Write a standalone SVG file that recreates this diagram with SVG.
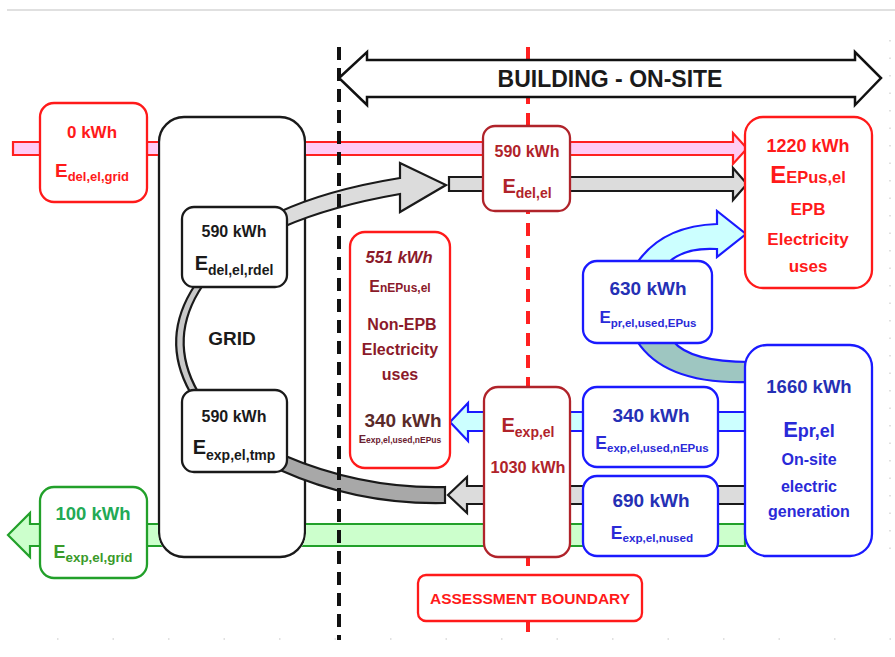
<svg xmlns="http://www.w3.org/2000/svg" width="895" height="657" viewBox="0 0 895 657">
<defs>
<style>
text{font-family:"Liberation Sans",Arial,sans-serif;font-weight:bold;text-anchor:middle}
.box{fill:#fff;stroke-width:2.3}
.kred{stroke:#ff1a1a}
.kdark{stroke:#b0232a}
.kblue{stroke:#1a1aff}
.kgreen{stroke:#22a02a}
.kblack{stroke:#1a1a1a}
.tred{fill:#ff1a1a}
.tdark{fill:#b0232a}
.tblue{fill:#2530b5}
.tblue2{fill:#2a2ad8}
.tgreen{fill:#22aa55}
.tgreen2{fill:#3a9a2a}
.tblack{fill:#1a1a1a}
.tbrown{fill:#8b1a2a}
.band{stroke-width:2.2;stroke-linejoin:miter}
</style>
<clipPath id="noGrid"><path clip-rule="evenodd" d="M0,0H895V657H0Z M183,116 H281 A25,25 0 0 1 306,141 V533 A25,25 0 0 1 281,558 H183 A25,25 0 0 1 158,533 V141 A25,25 0 0 1 183,116 Z"/></clipPath>
</defs>

<g id="page-marks">
<line x1="7" y1="10" x2="895" y2="10" stroke="#d6d6d6" stroke-width="1.5"/>
<line x1="890" y1="40" x2="890" y2="560" stroke="#d8d8d8" stroke-width="1.5" stroke-dasharray="1.5 16"/>
<line x1="57" y1="639" x2="895" y2="639" stroke="#d8d8d8" stroke-width="1.5" stroke-dasharray="1.5 54"/>
</g>

<g id="grid">
<rect class="box kblack" x="159" y="117" width="146" height="440" rx="25"/>
<text class="tblack" x="232" y="345" font-size="19">GRID</text>
</g>

<g id="connectors">
<g clip-path="url(#noGrid)">
<path class="band" d="M13,142 H733 V133 L747,148.5 L733,164 V155 H13 Z" fill="#ffccf5" stroke="#ff2020"/>
<path class="band" d="M745,524 H30 V513 L8,535 L30,557 V546 H745 Z" fill="#ccffcc" stroke="#22a02a"/>
</g>
<path class="band" d="M449,177 H733 V168 L747,184 L733,200 V191 H449 Z" fill="#dcdcdc" stroke="#1a1a1a"/>
<path class="band" d="M750,412 H468 V403 L450,422 L468,441 V431 H750 Z" fill="#ccffff" stroke="#1a1aff"/>
<path class="band" d="M750,486 H467 V477 L448,495 L467,513 V504 H750 Z" fill="#dcdcdc" stroke="#1a1a1a"/>
<path class="band" d="M277,213 Q326,190 400,178 L400,163 L446,185 L400,212 L400,194 Q331,206 283,227 Z" fill="#dcdcdc" stroke="#1a1a1a"/>
<path class="band" d="M195,285 Q160,338 190,392 L198,392 Q167,338 203,285 Z" fill="#c8c8c8" stroke="#1a1a1a"/>
<path class="band" d="M283,455 Q362,489 445,487 L445,503 Q358,505 280,470 Z" fill="#a8a8a8" stroke="#1a1a1a"/>
<path class="band" d="M637,263 Q662,226 717,224 L717,211 L746,234 L717,257 L717,249 Q684,247 668,263 Z" fill="#ccffff" stroke="#1a1aff"/>
<path class="band" d="M637,341 Q665,385 750,382 L750,362 Q690,362 673,341 Z" fill="#9ec6c1" stroke="#1a1aff"/>
</g>

<g id="boundaries">
<line x1="339" y1="47" x2="339" y2="640" stroke="#111" stroke-width="4" stroke-dasharray="13 8"/>
<line x1="528" y1="47" x2="528" y2="640" stroke="#ff2020" stroke-width="4" stroke-dasharray="13 9"/>
</g>

<g id="building-onsite">
<path d="M339,78 L367,52 V60 H855 V52 L881,78 L855,105 V97 H367 V105 Z" fill="#fff" stroke="#111" stroke-width="2.5" stroke-linejoin="miter"/>
<text class="tblack" x="610" y="87" font-size="23">BUILDING - ON-SITE</text>
</g>

<g id="node-del-grid">
<rect class="box kred" x="40" y="103" width="107" height="99" rx="14"/>
<text class="tred" x="92" y="138" font-size="17">0 kWh</text>
<text class="tred" x="92" y="177"><tspan font-size="19">E</tspan><tspan font-size="13" dy="4">del,el,grid</tspan></text>
</g>

<g id="node-del-rdel">
<rect class="box kblack" x="182" y="207" width="105" height="80" rx="12"/>
<text class="tblack" x="234" y="237" font-size="16">590 kWh</text>
<text class="tblack" x="234" y="270"><tspan font-size="20">E</tspan><tspan font-size="14" dy="5">del,el,rdel</tspan></text>
</g>

<g id="node-exp-tmp">
<rect class="box kblack" x="182" y="390" width="105" height="82" rx="12"/>
<text class="tblack" x="234" y="422" font-size="16">590 kWh</text>
<text class="tblack" x="234" y="454"><tspan font-size="20">E</tspan><tspan font-size="14" dy="6">exp,el,tmp</tspan></text>
</g>

<g id="node-del-el">
<rect class="box kdark" x="483" y="126" width="87" height="85" rx="12"/>
<text class="tdark" x="527" y="157" font-size="16">590 kWh</text>
<text class="tdark" x="527" y="193"><tspan font-size="20">E</tspan><tspan font-size="14" dy="5">del,el</tspan></text>
</g>

<g id="node-epus">
<rect class="box kred" x="745" y="117" width="127" height="171" rx="18"/>
<text class="tred" x="808" y="152" font-size="18">1220 kWh</text>
<text class="tred" x="808" y="183"><tspan font-size="24">E</tspan><tspan font-size="16.5">EPus,el</tspan></text>
<text class="tred" x="808" y="215" font-size="17">EPB</text>
<text class="tred" x="808" y="245" font-size="17">Electricity</text>
<text class="tred" x="808" y="272" font-size="17">uses</text>
</g>

<g id="node-nepus">
<rect class="box kred" x="350" y="232" width="100" height="236" rx="15"/>
<text class="tbrown" x="399" y="263" font-size="16.5" font-style="italic" fill="#a01c32">551 kWh</text>
<text class="tbrown" x="400" y="292"><tspan font-size="16">E</tspan><tspan font-size="12">nEPus,el</tspan></text>
<text class="tbrown" x="402" y="330" font-size="16">Non-EPB</text>
<text class="tbrown" x="400" y="355" font-size="16">Electricity</text>
<text class="tbrown" x="400" y="380" font-size="16">uses</text>
<text x="403" y="427" font-size="19" fill="#5a2a2a">340 kWh</text>
<text x="400" y="443" fill="#6a2030"><tspan font-size="11">E</tspan><tspan font-size="8.5">exp,el,used,nEPus</tspan></text>
</g>

<g id="node-pr-used">
<rect class="box kblue" x="583" y="261" width="129" height="82" rx="14"/>
<text class="tblue" x="648" y="295" font-size="19">630 kWh</text>
<text class="tblue2" x="648" y="323"><tspan font-size="17">E</tspan><tspan font-size="11.5" dy="4">pr,el,used,EPus</tspan></text>
</g>

<g id="node-pr-el">
<rect class="box kblue" x="745" y="345" width="127" height="211" rx="22"/>
<text class="tblue" x="809" y="393" font-size="18.5">1660 kWh</text>
<text class="tblue2" x="809" y="437"><tspan font-size="22">E</tspan><tspan font-size="18">pr,el</tspan></text>
<text class="tblue2" x="809" y="465" font-size="16">On-site</text>
<text class="tblue2" x="809" y="492" font-size="16">electric</text>
<text class="tblue2" x="809" y="517" font-size="16">generation</text>
</g>

<g id="node-exp-used">
<rect class="box kblue" x="583" y="387" width="135" height="80" rx="14"/>
<text class="tblue" x="651" y="422" font-size="19">340 kWh</text>
<text class="tblue2" x="652" y="449"><tspan font-size="17.5">E</tspan><tspan font-size="11.5" dy="3">exp,el,used,nEPus</tspan></text>
</g>

<g id="node-exp-nused">
<rect class="box kblue" x="583" y="476" width="135" height="80" rx="14"/>
<text class="tblue" x="651" y="507" font-size="19">690 kWh</text>
<text class="tblue2" x="652" y="539"><tspan font-size="17.5">E</tspan><tspan font-size="11.7" dy="3">exp,el,nused</tspan></text>
</g>

<g id="node-exp-el">
<rect class="box kdark" x="484" y="387" width="86" height="170" rx="14"/>
<text class="tdark" x="528" y="432"><tspan font-size="20">E</tspan><tspan font-size="14" dy="5">exp,el</tspan></text>
<text class="tdark" x="528" y="473" font-size="16.3">1030 kWh</text>
</g>

<g id="node-exp-grid">
<rect class="box kgreen" x="40" y="487" width="107" height="91" rx="14"/>
<text class="tgreen" x="93" y="520" font-size="18.5">100 kWh</text>
<text class="tgreen2" x="93" y="558"><tspan font-size="18">E</tspan><tspan font-size="13.4" dy="4">exp,el,grid</tspan></text>
</g>

<g id="assessment-boundary">
<rect class="box kred" x="418" y="575" width="224" height="46" rx="8"/>
<text class="tred" x="530" y="604" font-size="15.5">ASSESSMENT BOUNDARY</text>
</g>
</svg>
